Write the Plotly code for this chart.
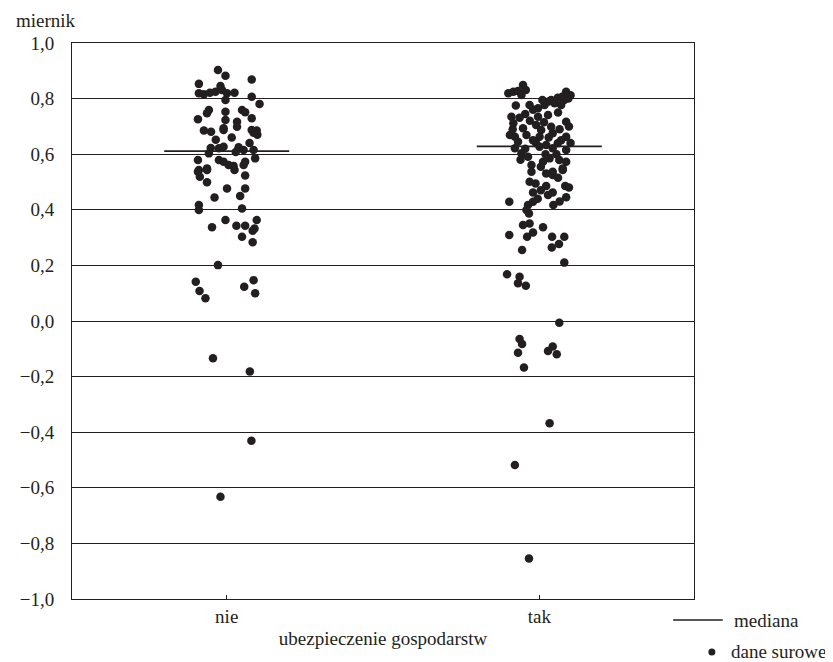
import plotly.graph_objects as go

# ---- data ----
categories = ["nie", "tak"]
y_tick_vals = [1.0, 0.8, 0.6, 0.4, 0.2, 0.0, -0.2, -0.4, -0.6, -0.8, -1.0]
y_tick_text = ["1,0", "0,8", "0,6", "0,4", "0,2", "0,0", "−0,2", "−0,4", "−0,6", "−0,8", "−1,0"]

medians = [0.611, 0.628]

nie_values = [
    0.903, 0.882, 0.869, 0.853, 0.845, 0.819, 0.816, 0.821, 0.825, 0.831,
    0.819, 0.821, 0.795, 0.807, 0.781, 0.759, 0.747, 0.753, 0.759, 0.751,
    0.726, 0.723, 0.729, 0.717, 0.693, 0.699, 0.685, 0.681, 0.687, 0.687,
    0.685, 0.677, 0.621, 0.627, 0.625, 0.615, 0.615, 0.603, 0.579, 0.579,
    0.573, 0.573, 0.585, 0.549, 0.543, 0.558, 0.537, 0.519, 0.543, 0.561,
    0.543, 0.561, 0.523, 0.499, 0.477, 0.477, 0.444, 0.450, 0.417, 0.399,
    0.405, 0.363, 0.363, 0.337, 0.343, 0.343, 0.333, 0.325, 0.303, 0.283,
    0.201, 0.141, 0.108, 0.082, 0.147, 0.123, 0.100, -0.134, -0.182, -0.431,
    -0.632, 0.608, 0.622, 0.640, 0.660, 0.670, 0.652,
]
nie_jitter = [
    -0.028, -0.004, 0.080, -0.089, -0.020, -0.089, -0.073, -0.054, -0.036, -0.015,
    0.001, 0.025, -0.004, 0.080, 0.105, -0.057, -0.063, -0.004, 0.049, 0.059,
    -0.092, -0.004, 0.080, 0.033, -0.010, 0.033, -0.073, -0.050, -0.010, 0.080,
    0.096, 0.086, -0.025, -0.010, 0.038, 0.054, 0.086, -0.057, -0.092, -0.025,
    -0.010, 0.059, 0.091, -0.063, -0.089, 0.022, -0.092, -0.086, -0.063, 0.006,
    0.025, 0.054, 0.059, -0.063, 0.001, 0.059, -0.039, 0.043, -0.089, -0.089,
    0.049, -0.004, 0.096, -0.047, 0.031, 0.059, 0.089, 0.083, 0.049, 0.083,
    -0.028, -0.099, -0.087, -0.068, 0.086, 0.056, 0.091, -0.044, 0.074, 0.079,
    -0.020, 0.029, -0.051, 0.073, 0.016, 0.098, -0.035,
]

tak_values = [
    0.819, 0.825, 0.827, 0.849, 0.831, 0.813, 0.777, 0.765, 0.777, 0.795,
    0.803, 0.825, 0.795, 0.777, 0.783, 0.735, 0.731, 0.735, 0.741, 0.711,
    0.705, 0.699, 0.717, 0.693, 0.687, 0.669, 0.663, 0.669, 0.663, 0.675,
    0.663, 0.645, 0.639, 0.633, 0.639, 0.621, 0.603, 0.591, 0.627, 0.621,
    0.615, 0.573, 0.585, 0.579, 0.573, 0.561, 0.537, 0.549, 0.537, 0.531,
    0.525, 0.543, 0.501, 0.495, 0.486, 0.486, 0.462, 0.453, 0.462, 0.445,
    0.429, 0.429, 0.417, 0.417, 0.399, 0.387, 0.345, 0.351, 0.337, 0.318,
    0.303, 0.309, 0.303, 0.303, 0.277, 0.264, 0.255, 0.210, 0.168, 0.159,
    0.136, 0.127, -0.006, -0.065, -0.083, -0.114, -0.092, -0.108, -0.120, -0.167,
    -0.368, -0.518, -0.854,
    0.812, 0.800, 0.808, 0.790, 0.795, 0.760, 0.775, 0.745, 0.750, 0.700,
    0.690, 0.720, 0.715, 0.690, 0.650, 0.660, 0.650, 0.620, 0.640, 0.600,
    0.600, 0.580, 0.555, 0.515, 0.470, 0.480, 0.440, 0.430,
]
tak_jitter = [
    -0.099, -0.083, -0.068, -0.052, -0.043, -0.057, -0.031, -0.004, 0.017, 0.038,
    0.059, 0.086, 0.080, 0.070, 0.049, -0.089, -0.063, -0.004, 0.028, -0.083,
    -0.010, 0.038, 0.086, -0.052, 0.006, -0.094, -0.078, -0.041, 0.001, 0.043,
    0.086, -0.068, -0.010, 0.022, 0.059, -0.078, -0.057, -0.036, 0.001, 0.043,
    0.086, 0.012, 0.033, 0.064, 0.086, -0.025, 0.043, 0.075, -0.025, 0.022,
    0.043, 0.075, -0.031, -0.012, 0.022, 0.083, -0.020, 0.028, 0.043, 0.086,
    -0.096, -0.020, -0.036, 0.045, -0.041, -0.033, -0.052, -0.031, 0.012, -0.020,
    -0.039, -0.096, 0.041, 0.080, 0.063, 0.040, -0.055, 0.080, -0.103, -0.063,
    -0.068, -0.043, 0.064, -0.063, -0.055, -0.068, 0.043, 0.028, 0.056, -0.049,
    0.033, -0.078, -0.033,
    0.100, 0.093, 0.075, 0.030, 0.010, -0.020, -0.075, -0.045, 0.060, 0.095,
    0.065, -0.030, 0.015, -0.085, -0.020, 0.030, 0.070, -0.045, 0.100, 0.020,
    0.055, -0.060, 0.005, 0.060, 0.005, 0.095, -0.005, 0.065,
]

median_half_width = 0.2

FONT = "Liberation Serif"
INK = "#231f20"
FS = 19

fig = go.Figure()

series = [(0, nie_values, nie_jitter), (1, tak_values, tak_jitter)]
for pos, vals, jit in series:
    fig.add_trace(go.Scatter(
        x=[pos + j for j in jit], y=vals, mode="markers",
        marker=dict(size=8.5, color=INK, line=dict(width=0)),
        showlegend=False, hoverinfo="y",
    ))

for pos, med in enumerate(medians):
    fig.add_trace(go.Scatter(
        x=[pos - median_half_width, pos + median_half_width], y=[med, med],
        mode="lines", line=dict(color=INK, width=1.6),
        showlegend=False, hoverinfo="y",
    ))

fig.update_layout(
    width=825, height=654,
    margin=dict(l=59, r=139, t=35, b=63),
    paper_bgcolor="white", plot_bgcolor="white",
    font=dict(family=FONT, size=FS, color=INK),
    xaxis=dict(
        range=[-0.495, 1.495], tickvals=[0, 1], ticktext=categories,
        ticks="inside", ticklen=4, tickcolor=INK, tickwidth=1,
        showgrid=False, zeroline=False,
        showline=True, mirror=True, linecolor=INK, linewidth=1,
        title=dict(text="ubezpieczenie gospodarstw", standoff=5,
                   font=dict(family=FONT, size=FS, color=INK)),
        tickfont=dict(family=FONT, size=FS, color=INK),
    ),
    yaxis=dict(
        range=[-1.0, 1.0], tickvals=y_tick_vals, ticktext=y_tick_text,
        ticks="", showgrid=True, gridcolor=INK, gridwidth=1,
        zeroline=False,
        showline=True, mirror=True, linecolor=INK, linewidth=1,
        tickfont=dict(family=FONT, size=FS, color=INK),
        ticklabelstandoff=13,
    ),
    annotations=[
        dict(text="miernik", xref="paper", yref="paper", x=-0.094, y=1.041,
             xanchor="left", yanchor="middle", showarrow=False,
             font=dict(family=FONT, size=FS, color=INK)),
        dict(text="mediana", xref="paper", yref="paper", x=1.0606, y=-0.0378,
             xanchor="left", yanchor="middle", showarrow=False,
             font=dict(family=FONT, size=FS, color=INK)),
        dict(text="dane surowe", xref="paper", yref="paper", x=1.0558, y=-0.0953,
             xanchor="left", yanchor="middle", showarrow=False,
             font=dict(family=FONT, size=FS, color=INK)),
    ],
    shapes=[
        dict(type="line", xref="paper", yref="paper", x0=0.9665, x1=1.0463,
             y0=-0.0378, y1=-0.0378, line=dict(color=INK, width=1.6)),
        dict(type="circle", xref="paper", yref="paper",
             x0=1.0287 - 0.0056, x1=1.0287 + 0.0056,
             y0=-0.0953 - 0.0063, y1=-0.0953 + 0.0063,
             fillcolor=INK, line=dict(width=0)),
    ],
)

fig.write_html("out.html")
